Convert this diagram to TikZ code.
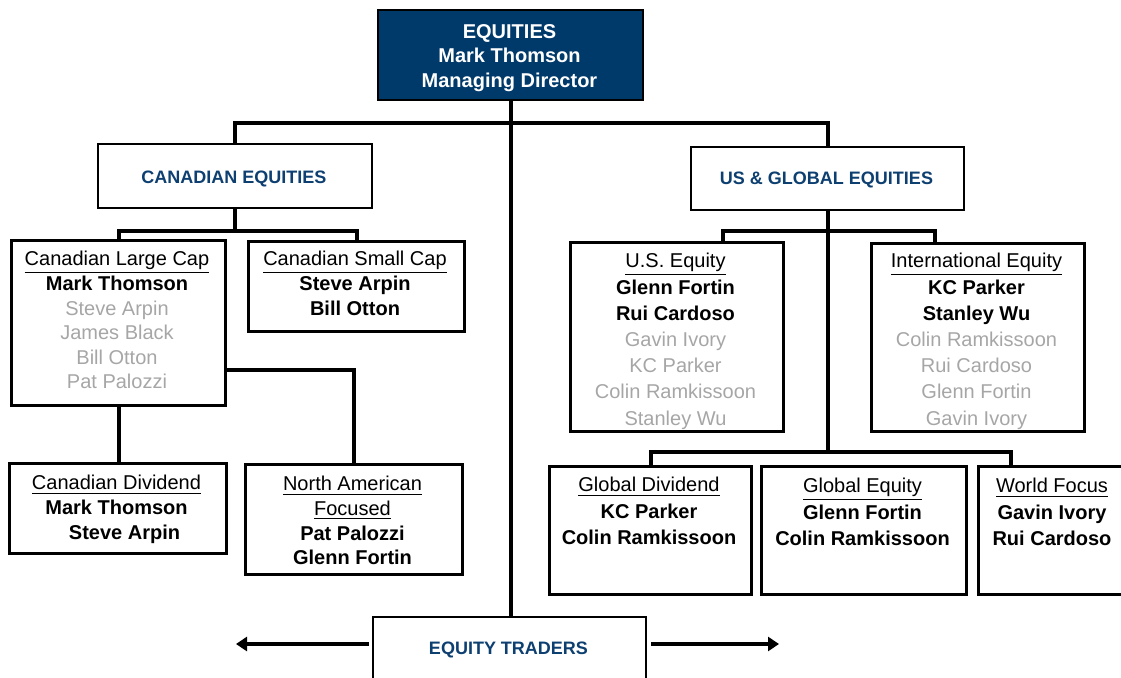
\documentclass[tikz,border=0pt]{standalone}
\usepackage{fontspec}
\setmainfont{Liberation Sans}
\usepackage{xcolor}
\usetikzlibrary{positioning,calc,arrows.meta}

\definecolor{eqnavy}{HTML}{003A6B}
\definecolor{eqhead}{HTML}{0D3F70}
\definecolor{eqgrey}{HTML}{A6A6A6}

\tikzset{
  unitbox/.style 2 args={draw=black, line width=1.5pt, minimum width=#1*0.5pt,
    minimum height=#2*0.5pt, anchor=north west, inner sep=0pt},
  names/.style={anchor=north, align=center, inner sep=0pt,
    font=\fontsize{10}{12.3}\selectfont, execute at begin node=\strut},
  namesus/.style={names, font=\fontsize{10}{13.1}\selectfont},
  headtxt/.style={text=eqhead, font=\fontsize{9}{11}\selectfont\bfseries,
    inner sep=0pt, text height=6.5pt, text depth=0pt},
  link/.style={line width=2pt},
  flow/.style={line width=2pt, -{Triangle[length=5.5pt,width=7pt]}}
}
\newcommand{\lead}[1]{\textbf{#1}}
\newcommand{\backup}[1]{\textcolor{eqgrey}{#1}}

\begin{document}
\begin{tikzpicture}[x=0.5pt,y=-0.5pt]
    \useasboundingbox (0,0) rectangle (1121,677);

    % Managing director
    \node [unitbox={265}{90}, fill=eqnavy, line width=1pt] (eq) at (377,9) {};
    \node [names, text=white, font=\fontsize{10}{12.25}\selectfont\bfseries] (eq-t) at (509.5,24)
        {EQUITIES\\Mark Thomson\\Managing Director};

    % Desks
    \node [unitbox={274}{64}, line width=1pt] (cdn) at (97,143) {};
    \node [headtxt] (cdn-t) at (234,177) {CANADIAN EQUITIES};
    \node [unitbox={273}{63}, line width=1pt] (usg) at (690,146) {};
    \node [headtxt] (usg-t) at (826.5,178) {US \& GLOBAL EQUITIES};

    % Canadian teams
    \node [unitbox={214}{165}] (clc) at (10,239) {};
    \node [names] (clc-t) at (117,251) {\underline{Canadian Large Cap}\\\lead{Mark Thomson}\\
        \backup{Steve Arpin}\\\backup{James Black}\\\backup{Bill Otton}\\\backup{Pat Palozzi}};
    \node [unitbox={216}{90}] (csc) at (247,240) {};
    \node [names] (csc-t) at (355,251) {\underline{Canadian Small Cap}\\\lead{Steve Arpin}\\\lead{Bill Otton}};
    \node [unitbox={217}{90}] (cdiv) at (8,462) {};
    \node [names] (cdiv-t) at (116.5,475) {\underline{Canadian Dividend}\\\lead{Mark Thomson}\\
        \hspace*{8pt}\lead{Steve Arpin}};
    \node [unitbox={217}{110}] (naf) at (244,463) {};
    \node [names] (naf-t) at (352.5,476) {\underline{North American}\\\underline{Focused}\\
        \lead{Pat Palozzi}\\\lead{Glenn Fortin}};

    % US & global teams
    \node [unitbox={213}{189}] (use) at (569,241) {};
    \node [namesus] (use-t) at (675.5,253) {\underline{U.S. Equity}\\\lead{Glenn Fortin}\\\lead{Rui Cardoso}\\
        \backup{Gavin Ivory}\\\backup{KC Parker}\\\backup{Colin Ramkissoon}\\\backup{Stanley Wu}};
    \node [unitbox={213}{188}] (intl) at (870,242) {};
    \node [namesus] (intl-t) at (976.5,253) {\underline{International Equity}\\\lead{KC Parker}\\\lead{Stanley Wu}\\
        \backup{Colin Ramkissoon}\\\backup{Rui Cardoso}\\\backup{Glenn Fortin}\\\backup{Gavin Ivory}};
    \node [unitbox={202}{128}] (gdiv) at (548,465) {};
    \node [namesus] (gdiv-t) at (649,477) {\underline{Global Dividend}\\\lead{KC Parker}\\\lead{Colin Ramkissoon}};
    \node [unitbox={205}{128}] (geq) at (760,465) {};
    \node [namesus] (geq-t) at (862.5,478) {\underline{Global Equity}\\\lead{Glenn Fortin}\\\lead{Colin Ramkissoon}};
    \node [unitbox={150}{128}] (wf) at (977,465) {};
    \node [namesus] (wf-t) at (1052,478) {\underline{World Focus}\\\lead{Gavin Ivory}\\\lead{Rui Cardoso}};

    % Traders
    \node [unitbox={273}{84}, line width=1pt] (trd) at (372,616) {};
    \node [headtxt] (trd-t) at (508.5,648) {EQUITY TRADERS};

    % Connectors
    \draw [link] (eq.south) -- (eq.south |- trd.north);
    \draw [link] (cdn.north) -- ++(0,-20) -| (usg.north);
    \draw [link] (cdn.south) -- ++(0,22) -| (clc.north);
    \draw [link] (cdn.south) -- ++(0,22) -| (csc.north);
    \draw [link] (clc.south) -- (clc.south |- cdiv.north);
    \draw [link] ($(clc.south east)+(0,-37)$) -| (naf.north);
    \draw [link] (usg.south) -- ++(0,20) -| ($(use.north)+(45.5,0)$);
    \draw [link] (usg.south) -- ++(0,20) -| ($(intl.north)+(-43.5,0)$);
    \draw [link] (usg.south) -- ++(0,241) coordinate (gbar) -| (gdiv.north);
    \draw [link] (gbar) -| ($(wf.north)+(-43,0)$);

    % Trading desk reach
    \coordinate (tl) at (236,644);
    \coordinate (tr) at (779,644);
    \draw [flow] ($(trd.north west)+(-3,28)$) -- (tl);
    \draw [flow] ($(trd.north east)+(4,28)$) -- (tr);
\end{tikzpicture}
\end{document}
